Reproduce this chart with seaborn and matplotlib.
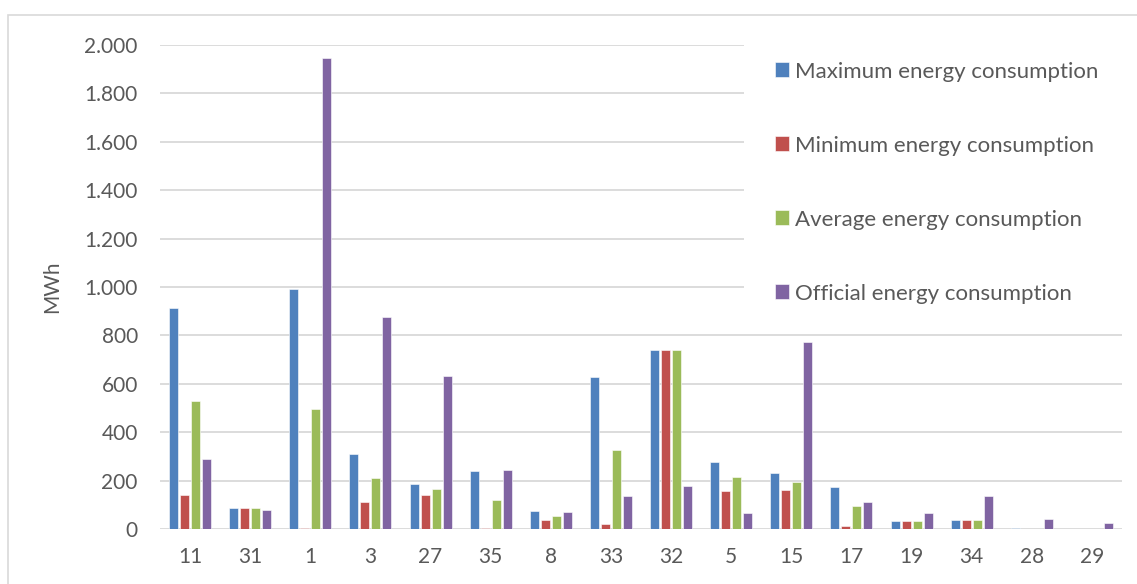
import matplotlib
matplotlib.use("Agg")
import matplotlib.pyplot as plt
import matplotlib.patches as mpatches
from matplotlib.ticker import FuncFormatter, MultipleLocator
import seaborn as sns
import pandas as pd

categories = ["11", "31", "1", "3", "27", "35", "8", "33", "32", "5", "15", "17", "19", "34", "28", "29"]
max_cons = [913, 87, 992, 309, 188, 239, 73, 628, 738, 275, 231, 175, 34, 38, 5, 0]
min_cons = [141, 87, 3, 110, 141, 3, 38, 22, 738, 159, 161, 14, 34, 38, 0, 0]
avg_cons = [527, 87, 497, 209, 165, 121, 55, 326, 738, 216, 195, 95, 34, 38, 1, 0]
off_cons = [291, 80, 1946, 875, 632, 245, 71, 137, 179, 66, 771, 111, 67, 135, 43, 23]
series_names = ["Maximum energy consumption", "Minimum energy consumption",
                "Average energy consumption", "Official energy consumption"]
colors = ["#4F81BD", "#C0504D", "#9BBB59", "#8064A2"]

rows = []
for name, vals in zip(series_names, [max_cons, min_cons, avg_cons, off_cons]):
    for c, v in zip(categories, vals):
        rows.append({"cat": c, "val": v, "series": name})
df = pd.DataFrame(rows)

sns.set_style("white")
plt.rcParams["font.family"] = ["Lato", "DejaVu Sans"]
TXT = "#595959"

W, H = 1137, 584
fig = plt.figure(figsize=(W / 100, H / 100), dpi=100)
ax = fig.add_axes([160 / W, 1 - 529 / H, (1122 - 160) / W, (529 - 45) / H])

sns.barplot(data=df, x="cat", y="val", hue="series", order=categories,
            hue_order=series_names, palette=colors, width=0.73, gap=0.18,
            edgecolor="white", linewidth=0.4, saturation=1, ax=ax, errorbar=None)

ax.set_xlim(-0.5, len(categories) - 0.5)
ax.set_ylim(0, 2000)
ax.yaxis.set_major_locator(MultipleLocator(200))
ax.yaxis.set_major_formatter(FuncFormatter(lambda v, p: f"{v:,.0f}".replace(",", ".")))
ax.grid(axis="y", color="#D9D9D9", linewidth=1.3)
ax.set_axisbelow(True)
for s in ax.spines.values():
    s.set_visible(False)
ax.tick_params(axis="both", length=0, labelsize=15, labelcolor=TXT)
ax.tick_params(axis="y", pad=16)
ax.tick_params(axis="x", pad=13)
ax.set_xlabel("")
ax.set_ylabel("MWh", fontsize=15, color=TXT)
ax.yaxis.set_label_coords(-0.102, 0.5)

handles, labels = ax.get_legend_handles_labels()
ax.get_legend().remove()

# white area behind legend (covers gridlines as in reference)
fig.patches.append(mpatches.Rectangle((744 / W, 1 - 312 / H), (1126 - 744) / W, (312 - 38) / H,
                                      transform=fig.transFigure, facecolor="white",
                                      edgecolor="none", zorder=1))
leg = fig.legend(handles, labels, loc="upper left", bbox_to_anchor=(775 / W, 1 - 61.5 / H),
                 frameon=False, fontsize=16, labelcolor=TXT, handlelength=0.63,
                 handleheight=0.63, handletextpad=0.27, labelspacing=2.43,
                 borderpad=0, borderaxespad=0)
leg.set_zorder(5)

# outer chart border
fig.patches.append(mpatches.Rectangle((8 / W, -0.1), 1.2, 1.1 - 15 / H,
                                      transform=fig.transFigure, facecolor="none",
                                      edgecolor="#D9D9D9", linewidth=1.2, zorder=0))

fig.savefig("out.png", dpi=100, facecolor="white")
